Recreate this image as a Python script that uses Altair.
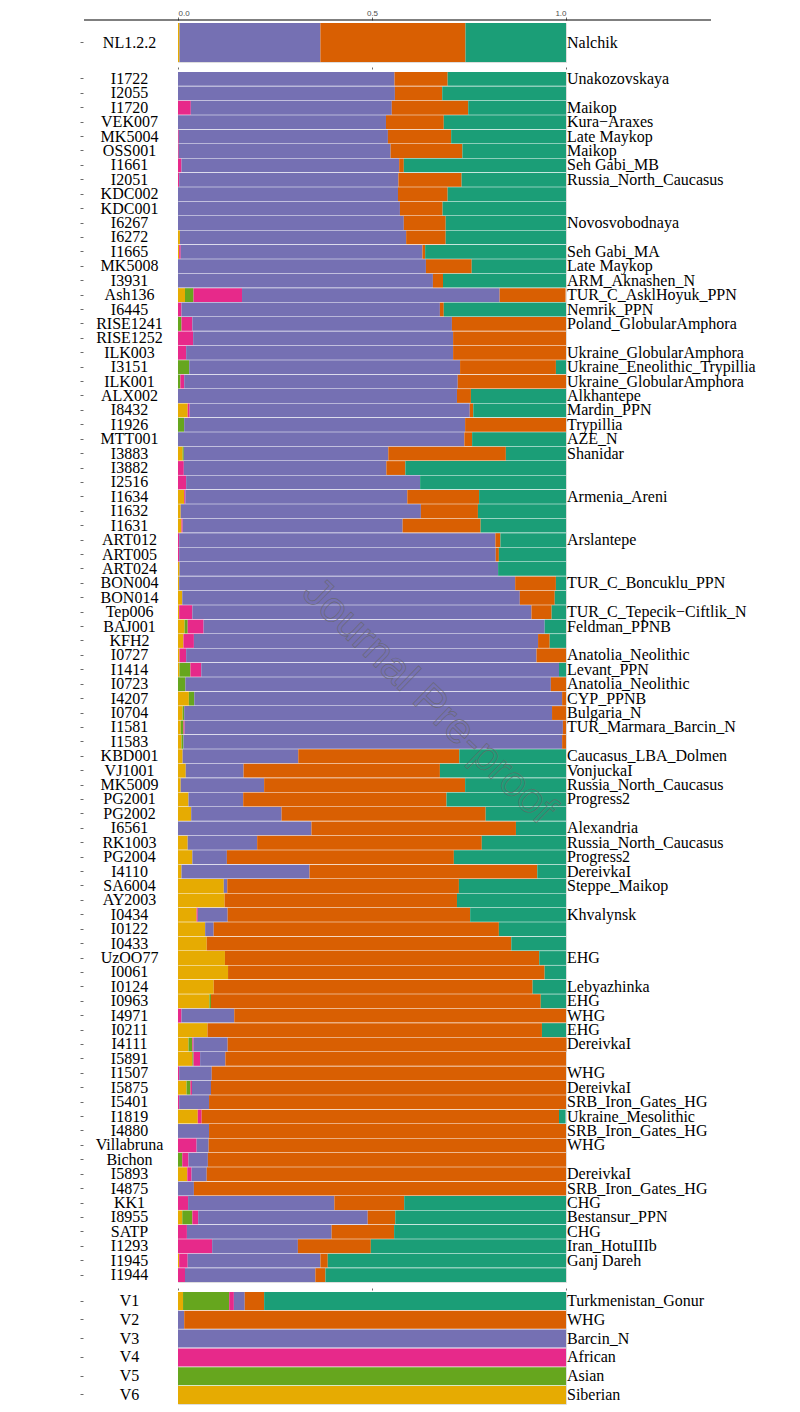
import altair as alt
import pandas as pd

components = ["Siberian", "Asian", "African", "Barcin_N", "WHG", "Iran"]
colors = ["#E6AB02", "#66A61E", "#E7298A", "#7570B3", "#D95F02", "#1B9E77"]

# ---------------- top panel ----------------
top_ids = ["NL1.2.2"]
top_pops = ["Nalchik"]
top_sib = [0.004]
top_asn = [0.0]
top_afr = [0.0]
top_bar = [0.363]
top_whg = [0.374]
top_irn = [0.259]

# ---------------- middle panel ----------------
mid_ids = ["I1722", "I2055", "I1720", "VEK007", "MK5004", "OSS001", "I1661", "I2051", "KDC002", "KDC001",
           "I6267", "I6272", "I1665", "MK5008", "I3931", "Ash136", "I6445", "RISE1241", "RISE1252", "ILK003",
           "I3151", "ILK001", "ALX002", "I8432", "I1926", "MTT001", "I3883", "I3882", "I2516", "I1634",
           "I1632", "I1631", "ART012", "ART005", "ART024", "BON004", "BON014", "Tep006", "BAJ001", "KFH2",
           "I0727", "I1414", "I0723", "I4207", "I0704", "I1581", "I1583", "KBD001", "VJ1001", "MK5009",
           "PG2001", "PG2002", "I6561", "RK1003", "PG2004", "I4110", "SA6004", "AY2003", "I0434", "I0122",
           "I0433", "UzOO77", "I0061", "I0124", "I0963", "I4971", "I0211", "I4111", "I5891", "I1507",
           "I5875", "I5401", "I1819", "I4880", "Villabruna", "Bichon", "I5893", "I4875", "KK1", "I8955",
           "SATP", "I1293", "I1945", "I1944"]
mid_pops = ["Unakozovskaya", "", "Maikop", "Kura\u2212Araxes", "Late Maykop", "Maikop", "Seh Gabi_MB",
            "Russia_North_Caucasus", "", "",
            "Novosvobodnaya", "", "Seh Gabi_MA", "Late Maykop", "ARM_Aknashen_N", "TUR_C_AsklHoyuk_PPN",
            "Nemrik_PPN", "Poland_GlobularAmphora", "", "Ukraine_GlobularAmphora",
            "Ukraine_Eneolithic_Trypillia", "Ukraine_GlobularAmphora", "Alkhantepe", "Mardin_PPN", "Trypillia",
            "AZE_N", "Shanidar", "", "", "Armenia_Areni",
            "", "", "Arslantepe", "", "", "TUR_C_Boncuklu_PPN", "", "TUR_C_Tepecik\u2212Ciftlik_N",
            "Feldman_PPNB", "",
            "Anatolia_Neolithic", "Levant_PPN", "Anatolia_Neolithic", "CYP_PPNB", "Bulgaria_N",
            "TUR_Marmara_Barcin_N", "", "Caucasus_LBA_Dolmen", "VonjuckaI", "Russia_North_Caucasus",
            "Progress2", "", "Alexandria", "Russia_North_Caucasus", "Progress2", "DereivkaI", "Steppe_Maikop",
            "", "Khvalynsk", "",
            "", "EHG", "", "Lebyazhinka", "EHG", "WHG", "EHG", "DereivkaI", "", "WHG",
            "DereivkaI", "SRB_Iron_Gates_HG", "Ukraine_Mesolithic", "SRB_Iron_Gates_HG", "WHG", "", "DereivkaI",
            "SRB_Iron_Gates_HG", "CHG", "Bestansur_PPN",
            "CHG", "Iran_HotuIIIb", "Ganj Dareh", ""]
mid_sib = [0, 0, 0, 0, 0, 0, 0, 0, 0, 0,
           0, 0.005, 0.003, 0, 0, 0.018, 0, 0, 0, 0,
           0, 0, 0, 0.025, 0, 0, 0.012, 0, 0, 0.016,
           0.007, 0.009, 0, 0, 0.004, 0.003, 0.011, 0.003, 0.017, 0.014,
           0.004, 0.004, 0, 0.028, 0.012, 0.007, 0.009, 0.012, 0.020, 0.007,
           0.027, 0.034, 0, 0.025, 0.037, 0.009, 0.118, 0.120, 0.048, 0.070,
           0.074, 0.121, 0.129, 0.092, 0.081, 0, 0.076, 0.027, 0.037, 0,
           0.022, 0, 0.051, 0, 0, 0, 0.024, 0, 0, 0.011,
           0, 0, 0.003, 0]
mid_asn = [0, 0, 0, 0, 0, 0, 0, 0, 0, 0,
           0, 0, 0, 0, 0, 0.022, 0, 0.009, 0, 0,
           0.029, 0.006, 0, 0, 0.016, 0, 0.003, 0, 0, 0,
           0, 0, 0, 0, 0, 0, 0, 0, 0.008, 0,
           0, 0.028, 0.019, 0.014, 0.004, 0.007, 0.005, 0, 0, 0,
           0, 0, 0, 0, 0, 0, 0, 0, 0, 0,
           0, 0, 0, 0, 0.004, 0, 0, 0.010, 0.003, 0,
           0.010, 0, 0, 0, 0, 0.011, 0, 0, 0, 0.026,
           0, 0, 0, 0]
mid_afr = [0, 0, 0.033, 0, 0.002, 0.002, 0.009, 0.003, 0, 0,
           0, 0, 0.004, 0, 0, 0.125, 0.009, 0.028, 0.039, 0.021,
           0, 0.010, 0, 0.005, 0, 0, 0, 0.015, 0.021, 0.003,
           0, 0.003, 0.003, 0.003, 0, 0, 0, 0.034, 0.041, 0.027,
           0.017, 0.028, 0, 0, 0, 0.003, 0, 0, 0, 0,
           0, 0, 0, 0, 0, 0, 0, 0, 0.003, 0,
           0, 0, 0, 0, 0, 0.009, 0, 0.003, 0.017, 0.003,
           0.004, 0.003, 0.010, 0, 0.048, 0.016, 0.011, 0, 0.026, 0.015,
           0.023, 0.088, 0.022, 0.018]
mid_bar = [0.558, 0.559, 0.518, 0.536, 0.539, 0.546, 0.561, 0.565, 0.567, 0.572,
           0.582, 0.583, 0.623, 0.639, 0.657, 0.664, 0.666, 0.669, 0.670, 0.688,
           0.698, 0.705, 0.719, 0.722, 0.724, 0.738, 0.527, 0.522, 0.603, 0.572,
           0.619, 0.567, 0.815, 0.816, 0.821, 0.866, 0.870, 0.874, 0.879, 0.887,
           0.903, 0.922, 0.942, 0.948, 0.948, 0.975, 0.976, 0.298, 0.149, 0.215,
           0.141, 0.233, 0.344, 0.179, 0.089, 0.330, 0.009, 0, 0.077, 0.022,
           0, 0, 0, 0, 0, 0.136, 0, 0.088, 0.065, 0.084,
           0.049, 0.077, 0, 0.080, 0.031, 0.050, 0.039, 0.041, 0.377, 0.437,
           0.373, 0.221, 0.342, 0.336]
mid_whg = [0.137, 0.122, 0.197, 0.149, 0.163, 0.185, 0.012, 0.163, 0.128, 0.110,
           0.108, 0.102, 0.007, 0.118, 0.026, 0.170, 0.010, 0.294, 0.291, 0.291,
           0.247, 0.279, 0.036, 0.009, 0.260, 0.020, 0.303, 0.049, 0, 0.185,
           0.147, 0.201, 0.013, 0.008, 0, 0.105, 0.090, 0.052, 0, 0.030,
           0.076, 0, 0.039, 0.010, 0.036, 0.008, 0.010, 0.415, 0.506, 0.518,
           0.524, 0.526, 0.527, 0.579, 0.585, 0.587, 0.597, 0.599, 0.625, 0.735,
           0.785, 0.810, 0.816, 0.822, 0.850, 0.855, 0.862, 0.873, 0.878, 0.913,
           0.915, 0.920, 0.921, 0.920, 0.921, 0.923, 0.926, 0.959, 0.180, 0.071,
           0.161, 0.188, 0.019, 0.026]
mid_irn = [0.305, 0.319, 0.252, 0.315, 0.296, 0.267, 0.418, 0.269, 0.305, 0.318,
           0.310, 0.310, 0.363, 0.243, 0.317, 0, 0.315, 0, 0, 0,
           0.026, 0, 0.245, 0.239, 0, 0.242, 0.155, 0.414, 0.376, 0.224,
           0.227, 0.220, 0.169, 0.173, 0.175, 0.026, 0.029, 0.037, 0.055, 0.042,
           0, 0.018, 0, 0, 0, 0, 0, 0.275, 0.325, 0.260,
           0.308, 0.207, 0.129, 0.217, 0.289, 0.074, 0.276, 0.281, 0.247, 0.173,
           0.141, 0.069, 0.055, 0.086, 0.065, 0, 0.062, 0, 0, 0,
           0, 0, 0.017, 0, 0, 0, 0, 0, 0.417, 0.440,
           0.443, 0.503, 0.614, 0.620]

# ---------------- bottom panel ----------------
bot_ids = ["V1", "V2", "V3", "V4", "V5", "V6"]
bot_pops = ["Turkmenistan_Gonur", "WHG", "Barcin_N", "African", "Asian", "Siberian"]
bot_sib = [0.013, 0, 0, 0, 0, 1.0]
bot_asn = [0.119, 0, 0, 0, 1.0, 0]
bot_afr = [0.012, 0, 0, 1.0, 0, 0]
bot_bar = [0.028, 0.016, 1.0, 0, 0, 0]
bot_whg = [0.050, 0.984, 0, 0, 0, 0]
bot_irn = [0.778, 0, 0, 0, 0, 0]

SERIF = "Liberation Serif"
PLOT_W = 388


def long_df(ids, cols):
    rows = []
    for i, sid in enumerate(ids):
        for k, comp in enumerate(components):
            rows.append({"id": sid, "comp": comp, "k": k, "value": cols[k][i]})
    return pd.DataFrame(rows)


def y_axis():
    return alt.Axis(title=None, orient="left", offset=95, domain=False, ticks=True,
                    tickSize=3, tickColor="#444", tickWidth=0.8, labelAlign="center",
                    labelPadding=-49, labelFont=SERIF, labelFontSize=16, labelColor="black",
                    labelBaseline="middle", labelOverlap=False, labelLimit=300, labelBound=False)


def panel(ids, pops, cols, height, xaxis, extra=None):
    df = long_df(ids, cols)
    lab = pd.DataFrame({"id": ids, "pop": pops})
    lab = lab[lab["pop"] != ""]
    yscale = alt.Scale(paddingInner=0.04, paddingOuter=0)
    bars = alt.Chart(df).mark_bar().encode(
        x=alt.X("value:Q", stack="zero", scale=alt.Scale(domain=[0, 1], nice=False), axis=xaxis),
        y=alt.Y("id:N", sort=ids, scale=yscale, axis=y_axis()),
        color=alt.Color("comp:N", scale=alt.Scale(domain=components, range=colors), legend=None),
        order=alt.Order("k:Q", sort="ascending"),
    )
    text = alt.Chart(lab).mark_text(align="left", baseline="middle", dx=1, font=SERIF,
                                    fontSize=16, color="black").encode(
        x=alt.datum(1.0),
        y=alt.Y("id:N", sort=ids, scale=yscale, axis=y_axis()),
        text="pop:N",
    )
    layers = [bars, text]
    if extra is not None:
        layers += extra
    return alt.layer(*layers).properties(width=PLOT_W, height=height)


top_axis = alt.Axis(title=None, orient="top", values=[0, 0.5, 1], format=".1f", domain=False, grid=False,
                    offset=3, tickSize=3, tickColor="#444", tickWidth=0.8, labelFontSize=8,
                    labelColor="#4D4D4D", labelFont="Liberation Sans", labelPadding=0)
tick_axis_mid = alt.Axis(title=None, orient="top", values=[0, 0.5, 1], labels=False, domain=False, grid=False,
                         offset=3, tickSize=2, tickColor="#444", tickWidth=0.8)
tick_axis_bot = alt.Axis(title=None, orient="top", values=[0, 0.5, 1], labels=False, domain=False, grid=False,
                         offset=2, tickSize=2, tickColor="#444", tickWidth=0.8)

axis_line = alt.Chart(pd.DataFrame({"a": [0]})).mark_rule(color="black", strokeWidth=1.2).encode(
    x=alt.value(-94), x2=alt.value(533), y=alt.value(-3))

watermark = alt.Chart(pd.DataFrame({"t": ["Journal Pre-proof"]})).mark_text(
    angle=44, fontSize=43, font="Liberation Sans", fill="transparent", stroke="#666666",
    strokeWidth=0.7, strokeOpacity=0.8, align="center", baseline="middle").encode(
    x=alt.value(251), y=alt.value(629), text="t:N")

top = panel(top_ids, top_pops, [top_sib, top_asn, top_afr, top_bar, top_whg, top_irn], 39, top_axis,
            extra=[axis_line])
mid = panel(mid_ids, mid_pops, [mid_sib, mid_asn, mid_afr, mid_bar, mid_whg, mid_irn], 1210, tick_axis_mid,
            extra=[watermark])
bot = panel(bot_ids, bot_pops, [bot_sib, bot_asn, bot_afr, bot_bar, bot_whg, bot_irn], 112, tick_axis_bot)

chart = alt.vconcat(top, mid, bot, spacing=3).properties(
    padding={"left": 71, "top": 0, "right": 10, "bottom": 0}
).configure_view(stroke=None).configure(background="white")

chart.save("out.html", embed_options={"renderer": "svg", "actions": False})
